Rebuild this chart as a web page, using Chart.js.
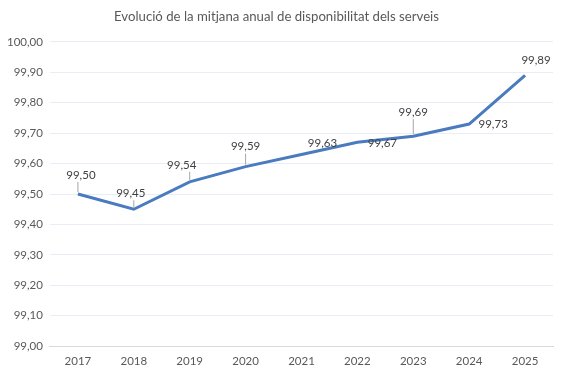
<!DOCTYPE html>
<html>
<head>
<meta charset="utf-8">
<script src="https://cdn.jsdelivr.net/npm/chart.js@4"></script>
<style>
  body { margin: 0; background: #fff; }
  #wrap { width: 567px; height: 376px; }
</style>
</head>
<body>
<div id="wrap"><canvas id="disponibilitatChart" width="567" height="376"></canvas></div>
<script>
var years = ['2017', '2018', '2019', '2020', '2021', '2022', '2023', '2024', '2025'];
var availability = [99.50, 99.45, 99.54, 99.59, 99.63, 99.67, 99.69, 99.73, 99.89];

// where each value label sits relative to its point (px), and whether it gets a leader line
var labelOffsets = [[3, -19], [-3, -16], [-8, -17], [0, -20], [21, -11], [25, 1], [0, -24], [24, 0], [11, -15]];
var leaderShown = [true, true, true, true, false, false, true, false, false];

function fmt(v) {
    return v.toFixed(2).replace('.', ',');
}

var valueLabels = {
    id: 'valueLabels',
    afterDatasetsDraw: function(chart) {
        var ctx = chart.ctx;
        var meta = chart.getDatasetMeta(0);
        ctx.save();
        ctx.font = '11.5px Lato, "Open Sans", sans-serif';
        ctx.textAlign = 'center';
        ctx.textBaseline = 'middle';
        meta.data.forEach(function(pt, i) {
            var lx = pt.x + labelOffsets[i][0];
            var ly = pt.y + labelOffsets[i][1];
            var text = fmt(availability[i]);
            if (leaderShown[i]) {
                var w = ctx.measureText(text).width / 2 + 1;
                var ex = Math.max(lx - w, Math.min(pt.x, lx + w));
                var ey = ly + 7;
                ctx.strokeStyle = '#a6a6a6';
                ctx.lineWidth = 1;
                ctx.beginPath();
                ctx.moveTo(pt.x, pt.y - 2);
                ctx.lineTo(ex, ey);
                ctx.stroke();
            }
            ctx.fillStyle = '#404040';
            ctx.fillText(text, lx, ly);
        });
        ctx.restore();
    }
};

function renderChart() {
    var ctx = document.getElementById('disponibilitatChart').getContext('2d');
    new Chart(ctx, {
        type: 'line',
        data: {
            labels: years,
            datasets: [{
                label: 'Disponibilitat',
                data: availability,
                borderColor: '#4a7bbf',
                borderWidth: 3,
                pointRadius: 0,
                tension: 0,
                fill: false
            }]
        },
        options: {
            responsive: false,
            animation: false,
            layout: {
                padding: { left: 0, right: 14, top: 4, bottom: 8 }
            },
            plugins: {
                legend: { display: false },
                tooltip: { enabled: false },
                title: {
                    display: true,
                    text: 'Evolució de la mitjana anual de disponibilitat dels serveis',
                    color: '#595959',
                    font: { family: 'Lato, "Open Sans", sans-serif', size: 13.2, weight: 'normal' },
                    padding: { top: 5, bottom: 17 }
                }
            },
            scales: {
                x: {
                    offset: true,
                    grid: { display: false },
                    border: { color: '#d9d9d9', width: 1 },
                    ticks: {
                        color: '#595959',
                        font: { family: 'Lato, "Open Sans", sans-serif', size: 11.5 },
                        padding: 0
                    }
                },
                y: {
                    min: 99,
                    max: 100,
                    grid: { color: '#e9eef6', drawTicks: false },
                    border: { display: false },
                    ticks: {
                        stepSize: 0.1,
                        color: '#595959',
                        font: { family: 'Lato, "Open Sans", sans-serif', size: 11.5 },
                        padding: 7,
                        callback: function(v) { return fmt(v); }
                    }
                }
            }
        },
        plugins: [valueLabels]
    });
}

document.addEventListener('DOMContentLoaded', renderChart);
</script>
</body>
</html>
